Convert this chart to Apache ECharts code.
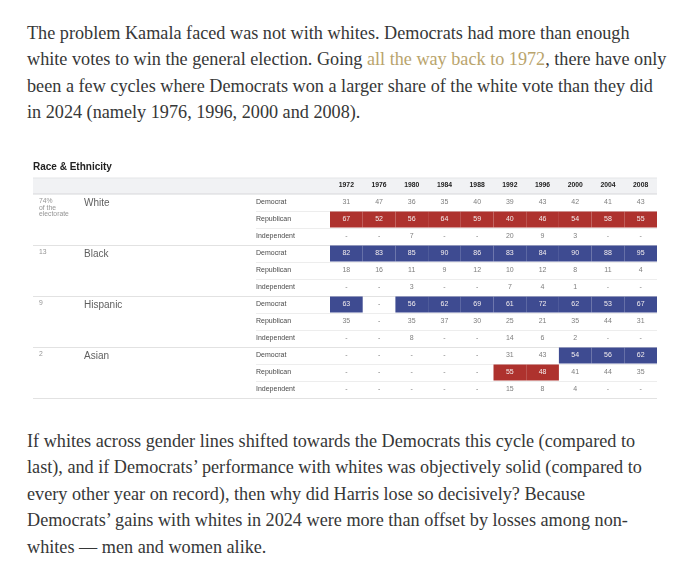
<!DOCTYPE html>
<html lang="en">
<head>
<meta charset="UTF-8">
<title>Race & Ethnicity</title>
<style>
  html, body { margin: 0; padding: 0; background: #fff; }
  body { width: 680px; height: 569px; position: relative; overflow: hidden; }
  .para { position: absolute; left: 27px; font-family: "Liberation Serif", "DejaVu Serif", serif;
          font-size: 18.2px; line-height: 26.4px; color: #363737; white-space: nowrap; }
  .para a { color: #b9a46c; text-decoration: none; }
  #main { position: absolute; left: 0; top: 152px; width: 680px; height: 255px; }
</style>
</head>
<body>
<div class="para" style="top:20px;">
  <div>The problem Kamala faced was not with whites. Democrats had more than enough</div>
  <div>white votes to win the general election. Going <a href="#">all the way back to 1972</a>, there have only</div>
  <div>been a few cycles where Democrats won a larger share of the white vote than they did</div>
  <div>in 2024 (namely 1976, 1996, 2000 and 2008).</div>
</div>

<div id="main"></div>

<div class="para" style="top:428px;">
  <div>If whites across gender lines shifted towards the Democrats this cycle (compared to</div>
  <div>last), and if Democrats’ performance with whites was objectively solid (compared to</div>
  <div>every other year on record), then why did Harris lose so decisively? Because</div>
  <div>Democrats’ gains with whites in 2024 were more than offset by losses among non-</div>
  <div>whites — men and women alike.</div>
</div>

<script src="https://cdn.jsdelivr.net/npm/echarts@6/dist/echarts.min.js"></script>
<script type="text/javascript">
// 表格数据
var years = ['1972', '1976', '1980', '1984', '1988', '1992', '1996', '2000', '2004', '2008'];
var groups = ['White', 'Black', 'Hispanic', 'Asian'];
var shares = ['74%\nof the\nelectorate', '13', '9', '2'];
var parties = ['Democrat', 'Republican', 'Independent'];

// null = "-"
var whiteDem = [31, 47, 36, 35, 40, 39, 43, 42, 41, 43];
var whiteRep = [67, 52, 56, 64, 59, 40, 46, 54, 58, 55];
var whiteInd = [null, null, 7, null, null, 20, 9, 3, null, null];
var blackDem = [82, 83, 85, 90, 86, 83, 84, 90, 88, 95];
var blackRep = [18, 16, 11, 9, 12, 10, 12, 8, 11, 4];
var blackInd = [null, null, 3, null, null, 7, 4, 1, null, null];
var hispDem = [63, null, 56, 62, 69, 61, 72, 62, 53, 67];
var hispRep = [35, null, 35, 37, 30, 25, 21, 35, 44, 31];
var hispInd = [null, null, 8, null, null, 14, 6, 2, null, null];
var asianDem = [null, null, null, null, null, 31, 43, 54, 56, 62];
var asianRep = [null, null, null, null, null, 55, 48, 41, 44, 35];
var asianInd = [null, null, null, null, null, 15, 8, 4, null, null];

var groupRows = [
  [whiteDem, whiteRep, whiteInd],
  [blackDem, blackRep, blackInd],
  [hispDem, hispRep, hispInd],
  [asianDem, asianRep, asianInd]
];

var DEM = '#3e4b91', REP = '#ae322e';

var rowNames = [];
var cells = [];
var rows = [];
groupRows.forEach(function (g, gi) {
  g.forEach(function (vals, pi) {
    var r = rowNames.length;
    rowNames.push(parties[pi]);
    rows.push([0, r, gi, pi]);
    vals.forEach(function (v, yi) {
      var d = g[0][yi], rp = g[1][yi];
      var win = '';
      if (d != null && rp != null) {
        if (pi === 0 && d > rp) win = DEM;
        if (pi === 1 && rp > d) win = REP;
      }
      cells.push({ value: [yi, r], label: v == null ? '-' : String(v), fill: win });
    });
  });
});

var myChart = echarts.init(document.getElementById('main'));

var option = {
  backgroundColor: '#fff',
  animation: false,
  grid: { left: 330, right: 23, top: 42, height: 204 },
  graphic: [
    { type: 'text', left: 33, top: 10,
      style: { text: 'Race & Ethnicity', fontSize: 10, fontWeight: 'bold', fill: '#222',
               fontFamily: 'Liberation Sans, Arial, sans-serif' } },
    { type: 'rect', shape: { x: 33, y: 26, width: 624, height: 16 },
      style: { fill: '#f1f2f4' }, z: -1 },
    { type: 'line', shape: { x1: 33, y1: 26, x2: 657, y2: 26 },
      style: { stroke: '#e4e5e7', lineWidth: 1 }, z: -1 },
    { type: 'line', shape: { x1: 33, y1: 42, x2: 657, y2: 42 },
      style: { stroke: '#d6d7da', lineWidth: 1 }, z: -1 }
  ],
  xAxis: {
    type: 'category', data: years, position: 'top',
    axisLine: { show: false }, axisTick: { show: false }, splitLine: { show: false },
    axisLabel: { fontSize: 6.8, fontWeight: 'bold', color: '#222', margin: 5,
                 fontFamily: 'Liberation Sans, Arial, sans-serif' }
  },
  yAxis: {
    type: 'category', data: rowNames, inverse: true,
    axisLine: { show: false }, axisTick: { show: false }, splitLine: { show: false },
    axisLabel: { fontSize: 7, color: '#4a4a4a', align: 'left', margin: 74,
                 fontFamily: 'Liberation Sans, Arial, sans-serif' }
  },
  series: [
    {
      // 行分隔线与左侧分组标签
      type: 'custom',
      data: rows,
      clip: false,
      z: 1,
      renderItem: function (params, api) {
        var r = api.value(1), gi = api.value(2), pi = api.value(3);
        var c = api.coord([0, r]);
        var s = api.size([1, 1]);
        var right = api.coord([years.length - 1, r])[0] + s[0] / 2;
        var yb = Math.round(c[1] + s[1] / 2) + 0.5;
        var last = pi === parties.length - 1;
        var children = [{
          type: 'line',
          shape: { x1: last ? 33 : 256, y1: yb, x2: right, y2: yb },
          style: { stroke: last ? '#e2e2e2' : '#ededed', lineWidth: 1 }
        }];
        if (pi === 0) {
          children.push({
            type: 'text',
            style: { x: 39, y: c[1] - 4.5, text: shares[gi], fontSize: 6.8, lineHeight: 6.6,
                     fill: '#959595', verticalAlign: 'top',
                     fontFamily: 'Liberation Sans, Arial, sans-serif' }
          });
          children.push({
            type: 'text',
            style: { x: 84, y: c[1] + 1, text: groups[gi], fontSize: 10, fill: '#5f5f5f',
                     verticalAlign: 'middle',
                     fontFamily: 'Liberation Sans, Arial, sans-serif' }
          });
        }
        return { type: 'group', children: children };
      }
    },
    {
      // 数值单元格
      type: 'custom',
      data: cells,
      clip: false,
      z: 2,
      renderItem: function (params, api) {
        var item = cells[params.dataIndex];
        var c = api.coord([api.value(0), api.value(1)]);
        var s = api.size([1, 1]);
        var children = [];
        if (item.fill) {
          children.push({
            type: 'rect',
            shape: { x: c[0] - s[0] / 2, y: c[1] - s[1] / 2 + 0.5, width: s[0], height: s[1] - 1 },
            style: { fill: item.fill }
          });
        }
        children.push({
          type: 'text',
          style: { x: c[0], y: c[1], text: item.label, fontSize: 7,
                   fill: item.fill ? '#f4eeee' : '#7e7e7e',
                   align: 'center', verticalAlign: 'middle',
                   fontFamily: 'Liberation Sans, Arial, sans-serif' }
        });
        return { type: 'group', children: children };
      }
    }
  ]
};
myChart.setOption(option);
</script>
</body>
</html>
